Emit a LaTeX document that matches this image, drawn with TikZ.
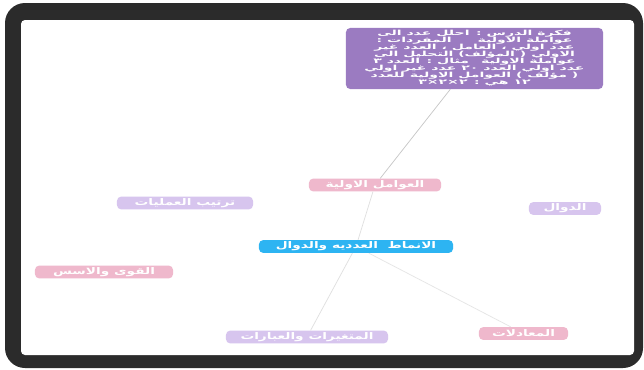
\documentclass[tikz,border=0pt]{standalone}
\usepackage{fontspec}
\usepackage{tikz}
\usetikzlibrary{positioning, backgrounds}
\TeXXeTstate=1
\newfontfamily\arabicfont[Script=Arabic,FakeStretch=1.5]{DejaVu Sans}
\newfontfamily\arabicwide[Script=Arabic,FakeStretch=2.0]{DejaVu Sans}
\newcommand{\rtl}[1]{\beginR #1\endR}
\newcommand{\lessonfont}{\arabicwide\bfseries\fontsize{5}{4.95}\selectfont\setlength{\lineskiplimit}{-5pt}}
\definecolor{frameDark}{HTML}{2B2B2B}
\definecolor{lessonPurple}{HTML}{9B7BC1}
\definecolor{topicPink}{HTML}{EFB8CC}
\definecolor{topicLilac}{HTML}{D7C5EE}
\definecolor{mainCyan}{HTML}{2DB4F2}

\begin{document}
\begin{tikzpicture}[
  x=0.025cm, y=-0.025cm,
  font=\arabicfont\bfseries\fontsize{6.5}{7}\selectfont,
  topic/.style={
    rectangle,
    rounded corners=3pt,
    text=white,
    inner sep=1pt,
    minimum height=0.32cm,
  },
  pink/.style={topic, fill=topicPink},
  lilac/.style={topic, fill=topicLilac},
  branch/.style={draw=gray!45, line width=0.5pt},
]
\useasboundingbox (0,0) rectangle (644,369);

% --- Lesson idea ---
\node[topic, fill=lessonPurple, minimum width=6.425cm, minimum height=1.525cm,
      inner sep=0.5pt, align=center, font=\lessonfont] (Lesson) at (474.5,58.5) {
  \rtl{فكرة الدرس : احلل عدد الى}\\
  \rtl{عواملة الاولية \quad\quad\quad المفردات :}\\
  \rtl{عدد اولي ، العامل ، العدد غير}\\
  \rtl{الاولي ( المؤلف) التحليل الى}\\
  \rtl{عواملة الاولية \quad مثال : العدد ٣}\\
  \rtl{عدد اولي العدد ٢٠ عدد غير اولي}\\
  \rtl{( مؤلف ) العوامل الاولية للعدد}\\
  \rtl{١٢ هي : ٢×٢×٣}
};

% --- Topics ---
\node[pink, minimum width=3.3cm] (Primes) at (375,185) {\rtl{العوامل الاولية}};
\node[lilac, minimum width=3.4cm] (Order) at (185,203) {\rtl{ترتيب العمليات}};
\node[lilac, minimum width=1.8cm] (Functions) at (565,208.5) {\rtl{الدوال}};
\node[topic, fill=mainCyan, minimum width=4.85cm] (Main) at (356,246.5) {\rtl{الانماط \ العدديه والدوال}};
\node[pink, minimum width=3.45cm] (Powers) at (104,272) {\rtl{القوى والاسس}};
\node[lilac, minimum width=4.05cm] (Variables) at (307,337) {\rtl{المتغيرات والعبارات}};
\node[pink, minimum width=2.225cm] (Equations) at (523.5,333.5) {\rtl{المعادلات}};

\begin{scope}[on background layer]
% --- Frame ---
\fill[frameDark, rounded corners=0.5cm] (5,3) rectangle (643,368);
\fill[white, rounded corners=0.1cm] (21,20) rectangle (634,355);

% --- Branches ---
\draw[branch] (Lesson) -- (Primes);
\draw[branch, draw=gray!25] (Primes) -- (Main);
\draw[branch, draw=gray!25] (Main) -- (Variables);
\draw[branch, draw=gray!20] (Main) -- (Equations);
\end{scope}

\end{tikzpicture}
\end{document}
